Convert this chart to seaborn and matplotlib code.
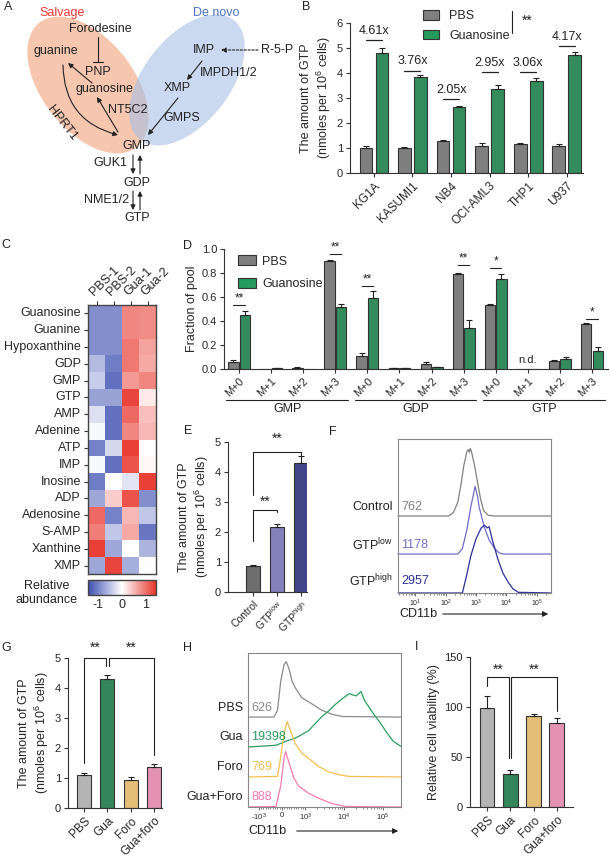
import numpy as np
import pandas as pd
import matplotlib
matplotlib.use("Agg")
import matplotlib.pyplot as plt
import seaborn as sns
from matplotlib.patches import Ellipse, Patch
from matplotlib.colors import LinearSegmentedColormap

# ---------------- data ----------------
# B: GTP in AML cell lines
cells = ["KG1A", "KASUMI1", "NB4", "OCI-AML3", "THP1", "U937"]
b_pbs = [1.00, 1.00, 1.28, 1.10, 1.18, 1.10]
b_pbs_err = [0.07, 0.05, 0.04, 0.12, 0.04, 0.05]
b_gua = [4.80, 3.85, 2.66, 3.38, 3.68, 4.72]
b_gua_err = [0.20, 0.08, 0.04, 0.15, 0.12, 0.12]
b_fold = ["4.61x", "3.76x", "2.05x", "2.95x", "3.06x", "4.17x"]
b_fold_y = [5.33, 4.10, 2.97, 4.04, 4.04, 5.10]

# C: heatmap
hm_rows = ["Guanosine", "Guanine", "Hypoxanthine", "GDP", "GMP", "GTP", "AMP",
           "Adenine", "ATP", "IMP", "Inosine", "ADP", "Adenosine", "S-AMP",
           "Xanthine", "XMP"]
hm_cols = ["PBS-1", "PBS-2", "Gua-1", "Gua-2"]
hm_vals = [
    [-0.90, -0.90, 0.85, 0.80],
    [-0.90, -0.90, 0.85, 0.80],
    [-0.90, -0.90, 0.95, 0.65],
    [-0.55, -1.05, 0.95, 0.60],
    [-0.40, -1.15, 0.70, 0.85],
    [-0.75, -0.75, 1.30, 0.15],
    [-0.25, -1.15, 1.05, 0.45],
    [-0.05, -1.15, 0.85, 0.50],
    [-1.00, -0.30, 1.35, 0.00],
    [-0.05, -1.15, 1.20, 0.05],
    [-1.05, 0.00, -0.20, 1.35],
    [-0.70, 0.35, 1.20, -0.90],
    [1.05, -1.00, 0.50, -0.45],
    [0.90, -0.45, 0.60, -1.10],
    [1.35, -0.70, 0.00, -0.60],
    [-0.70, 1.30, -0.65, -0.02],
]

# D: isotopologue fractions
d_mets = ["GMP", "GDP", "GTP"]
d_iso = ["M+0", "M+1", "M+2", "M+3"]
d_pbs = [0.06, 0.003, 0.012, 0.90, 0.105, 0.005, 0.045, 0.795, 0.535, 0.0, 0.07, 0.375]
d_pbs_err = [0.015, 0.0, 0.004, 0.01, 0.025, 0.002, 0.015, 0.008, 0.005, 0.0, 0.005, 0.005]
d_gua = [0.45, 0.005, 0.003, 0.515, 0.59, 0.005, 0.015, 0.345, 0.75, 0.0, 0.085, 0.15]
d_gua_err = [0.035, 0.002, 0.0, 0.03, 0.06, 0.002, 0.005, 0.06, 0.04, 0.0, 0.015, 0.03]
d_sig_idx = [0, 3, 4, 7, 8, 11]
d_sig_y = [0.536, 0.958, 0.69, 0.87, 0.84, 0.42]
d_sig_txt = ["**", "**", "**", "**", "*", "*"]

# E
e_groups = ["Control", "GTP$^{\\mathrm{low}}$", "GTP$^{\\mathrm{high}}$"]
e_vals = [0.87, 2.18, 4.30]
e_err = [0.03, 0.10, 0.25]

# F: flow histograms (CD11b, % of mode)
f_ctrl_x = [2.7, 126, 178, 251, 316, 398, 501, 562, 603, 646, 708, 891, 1122, 1413, 1778, 2512, 3981, 295000]
f_ctrl_h = [0, 0, 5, 20, 45, 75, 95, 98, 94, 100, 95, 75, 50, 25, 8, 1, 0, 0]
f_low_x = [2.7, 251, 355, 501, 676, 794, 933, 1122, 1259, 1862, 2692, 3981, 5623, 7943, 295000]
f_low_h = [0, 0, 8, 36, 70, 85, 100, 85, 70, 40, 21, 9, 2, 0, 0]
f_high_x = [2.7, 355, 479, 676, 1000, 1479, 1905, 2344, 2692, 3467, 5248, 7762, 11482, 16596, 24547, 295000]
f_high_h = [0, 0, 24, 55, 80, 96, 100, 96, 98, 78, 50, 29, 16, 6, 1, 0]
f_labels = ["Control", "GTP$^{\\mathrm{low}}$", "GTP$^{\\mathrm{high}}$"]
f_mfi = ["762", "1178", "2957"]

# G
g_groups = ["PBS", "Gua", "Foro", "Gua+foro"]
g_vals = [1.10, 4.30, 0.95, 1.38]
g_err = [0.07, 0.15, 0.10, 0.08]

# H: flow histograms
h_pbs_x = [-1800, -350, -196, -56, 83, 181, 292, 431, 569, 847, 1470, 2700, 4930, 9000, 295000]
h_pbs_h = [0, 0, 12, 65, 94, 100, 88, 65, 53, 35, 24, 12, 5, 1, 0]
h_gua_x = [-1800, -263, 153, 569, 708, 1200, 1800, 2700, 4030, 6040, 9000, 13500, 20300, 27500,
           33600, 55800, 83000, 126000, 187000, 295000]
h_gua_h = [0, 3, 10, 16, 19, 29, 42, 55, 65, 77, 87, 96, 92, 100, 84, 61, 45, 26, 10, 1]
h_foro_x = [-1800, -196, -56, 83, 222, 361, 569, 847, 1200, 2200, 4030, 7400, 13500, 295000]
h_foro_h = [0, 1, 37, 78, 100, 84, 60, 43, 34, 19, 9, 4, 1, 0]
h_combo_x = [-1800, -263, -56, 83, 153, 292, 500, 708, 1200, 2200, 4930, 11100, 295000]
h_combo_h = [0, 1, 38, 88, 100, 81, 53, 38, 25, 16, 6, 1, 0]
h_labels = ["PBS", "Gua", "Foro", "Gua+Foro"]
h_mfi = ["626", "19398", "769", "888"]

# I
i_vals = [99, 33, 91, 84]
i_err = [12, 4, 2, 5]

# ---------------- style ----------------
sns.set_style("ticks")
plt.rcParams["font.family"] = ["Liberation Sans", "DejaVu Sans"]
plt.rcParams["mathtext.fontset"] = "custom"
plt.rcParams["mathtext.rm"] = "Liberation Sans"
plt.rcParams["mathtext.it"] = "Liberation Sans:italic"
plt.rcParams["mathtext.bf"] = "Liberation Sans:bold"
plt.rcParams["axes.unicode_minus"] = False
plt.rcParams["axes.edgecolor"] = "#333333"
plt.rcParams["axes.linewidth"] = 0.8

INK = "#222222"
GRAY = "#7f7f7f"
GREEN = "#26995c"
FS = 9
W, H = 610, 860

fig = plt.figure(figsize=(6.1, 8.6), dpi=100)


def add_ax(x0, y0, x1, y1):
    return fig.add_axes([x0 / W, 1 - y1 / H, (x1 - x0) / W, (y1 - y0) / H])


def ftext(x, y, s, **kw):
    fig.text(x / W, 1 - y / H, s, **kw)


def style(ax, size=8):
    sns.despine(ax=ax)
    ax.tick_params(length=3, width=0.8, labelsize=size, color="#333333", pad=2)


def bar_errors(ax, means, errs):
    bars = sorted(ax.patches, key=lambda p: p.get_x())
    xs = np.array([p.get_x() + p.get_width() / 2 for p in bars])
    m = np.array(means)
    e = np.array(errs)
    keep = e > 0
    ax.errorbar(xs[keep], m[keep], yerr=[np.zeros(keep.sum()), e[keep]], fmt="none",
                ecolor=INK, elinewidth=0.8, capsize=2.2, capthick=0.8, zorder=3)
    return xs


def bracket(ax, x1, x2, top, y1, y2, txt, ty):
    ax.plot([x1, x1, x2, x2], [y1, top, top, y2], color=INK, lw=0.8, clip_on=False)
    ax.text((x1 + x2) / 2, ty, txt, ha="center", va="center", fontsize=10, color=INK)


ylab_gtp = "The amount of GTP\n(nmoles per 10$^6$ cells)"

# ---------------- A: pathway diagram ----------------
axA = add_ax(0, 0, 300, 225)
axA.set_xlim(0, 300)
axA.set_ylim(225, 0)
axA.axis("off")
axA.add_patch(Ellipse((88, 85), 158, 92, angle=52, facecolor="#f2a883", alpha=0.65, lw=0))
axA.add_patch(Ellipse((187, 80), 152, 86, angle=128, facecolor="#a9c0e6", alpha=0.6, lw=0))

diag_txt = [("Salvage", 62, 13, "#ee3535"), ("De novo", 216, 13, "#4a72c4"),
            ("Forodesine", 100, 29, INK), ("guanine", 56, 51, INK), ("PNP", 98, 72, INK),
            ("guanosine", 104, 89, INK), ("IMP", 204, 50, INK), ("R-5-P", 277, 50, INK),
            ("IMPDH1/2", 229, 73, INK), ("XMP", 177, 88, INK), ("NT5C2", 128, 110, INK),
            ("GMPS", 182, 118, INK), ("GMP", 137, 146, INK), ("GUK1", 110, 163, INK),
            ("GDP", 137, 183, INK), ("NME1/2", 107, 200, INK), ("GTP", 137, 218, INK)]
for s, x, y, c in diag_txt:
    axA.text(x, y, s, ha="center", va="center", fontsize=FS, color=c)
axA.text(62, 123, "HPRT1", ha="center", va="center", fontsize=FS, color=INK, rotation=-52)


def arrow(p0, p1, **kw):
    props = dict(arrowstyle="-|>", lw=0.8, color=INK, mutation_scale=7, shrinkA=0, shrinkB=0)
    props.update(kw)
    axA.annotate("", xy=p1, xytext=p0, arrowprops=props)


arrow((92, 83), (68, 63))
arrow((118, 132), (97, 97))
arrow((202, 61), (187, 80))
arrow((178, 98), (148, 135))
arrow((258, 50), (221, 50), linestyle=(0, (2, 1.5)))
arrow((63, 65), (118, 135), connectionstyle="arc3,rad=0.38")
arrow((133, 155), (133, 174))
arrow((140, 174), (140, 155))
arrow((133, 191), (133, 210))
arrow((140, 210), (140, 191))
axA.plot([98, 98], [37, 62], color=INK, lw=0.8)
axA.plot([93, 103], [62, 62], color=INK, lw=0.8)

# ---------------- B ----------------
axB = add_ax(350, 23, 583, 173)
dfB = pd.DataFrame({"cell": cells * 2,
                    "treatment": ["PBS"] * len(cells) + ["Guanosine"] * len(cells),
                    "gtp": b_pbs + b_gua})
sns.barplot(data=dfB, x="cell", y="gtp", hue="treatment", palette={"PBS": GRAY, "Guanosine": GREEN},
            errorbar=None, width=0.83, gap=0.2, edgecolor="#333333", linewidth=0.8,
            legend=False, ax=axB)
b_means = [v for pair in zip(b_pbs, b_gua) for v in pair]
b_errs = [v for pair in zip(b_pbs_err, b_gua_err) for v in pair]
xsB = bar_errors(axB, b_means, b_errs)
for i, (lab, ly) in enumerate(zip(b_fold, b_fold_y)):
    axB.plot([xsB[2 * i], xsB[2 * i + 1]], [ly, ly], color=INK, lw=0.9)
    axB.text((xsB[2 * i] + xsB[2 * i + 1]) / 2, ly + 0.12, lab, ha="center", va="bottom",
             fontsize=FS, color=INK)
axB.set_ylim(0, 6)
axB.set_yticks(range(7))
axB.set_xlim(-0.62, 5.42)
axB.set_xlabel("")
axB.set_ylabel(ylab_gtp, fontsize=FS, labelpad=3)
style(axB)
axB.tick_params(axis="x", labelsize=8.5)
plt.setp(axB.get_xticklabels(), rotation=45, ha="right", rotation_mode="anchor")
hB = [Patch(facecolor=GRAY, edgecolor="#333333", lw=0.8, label="PBS"),
      Patch(facecolor=GREEN, edgecolor="#333333", lw=0.8, label="Guanosine")]
axB.legend(handles=hB, loc="upper left", bbox_to_anchor=(417 / W, 1 - 4 / H),
           bbox_transform=fig.transFigure, frameon=False, fontsize=FS, borderpad=0,
           handlelength=1.25, handleheight=0.8, labelspacing=0.6, handletextpad=0.8)
axB.plot([512 / W, 512 / W], [1 - 11 / H, 1 - 33 / H], transform=fig.transFigure,
         color=INK, lw=0.8, clip_on=False)
ftext(527, 21, "**", ha="center", va="center", fontsize=10, color=INK)

# ---------------- C: heatmap ----------------
axC = add_ax(88, 305, 156, 574)
cax = add_ax(88, 580, 156, 595)
dfC = pd.DataFrame(hm_vals, index=hm_rows, columns=hm_cols)
cmap = LinearSegmentedColormap.from_list("bwr_c", ["#3d4fb0", "#ffffff", "#e8352c"])
sns.heatmap(dfC, cmap=cmap, vmin=-1.42, vmax=1.42, ax=axC, cbar_ax=cax,
            xticklabels=True, yticklabels=True,
            cbar_kws={"orientation": "horizontal", "ticks": [-1, 0, 1]})
axC.xaxis.tick_top()
axC.set_xticklabels(hm_cols, rotation=45, ha="left", rotation_mode="anchor", fontsize=FS)
axC.set_yticklabels(hm_rows, rotation=0, fontsize=FS)
axC.tick_params(length=3, width=0.8, color="#333333", pad=2)
for sp in axC.spines.values():
    sp.set_visible(True)
    sp.set_color("#444444")
    sp.set_linewidth(1.0)
cax.tick_params(length=0, labelsize=FS, pad=3)
cax.xaxis.set_ticklabels(["-1", "0", "1"])
cb = axC.collections[0].colorbar
cb.outline.set_edgecolor("#444444")
cb.outline.set_linewidth(1.0)
ftext(47, 593, "Relative\nabundance", ha="center", va="center", fontsize=FS,
      linespacing=1.15, color=INK)

# ---------------- D ----------------
axD = add_ax(224, 249, 608, 369)
d_cats = [f"{m} {iso}" for m in d_mets for iso in d_iso]
dfD = pd.DataFrame({"cat": d_cats * 2,
                    "treatment": ["PBS"] * len(d_cats) + ["Guanosine"] * len(d_cats),
                    "frac": d_pbs + d_gua})
sns.barplot(data=dfD, x="cat", y="frac", hue="treatment", palette={"PBS": GRAY, "Guanosine": GREEN},
            errorbar=None, width=0.72, gap=0.1, edgecolor="#333333", linewidth=0.8,
            legend=False, ax=axD)
d_means = [v for pair in zip(d_pbs, d_gua) for v in pair]
d_errs = [v for pair in zip(d_pbs_err, d_gua_err) for v in pair]
xsD = bar_errors(axD, d_means, d_errs)
for idx, sy, st in zip(d_sig_idx, d_sig_y, d_sig_txt):
    axD.plot([xsD[2 * idx], xsD[2 * idx + 1]], [sy, sy], color=INK, lw=0.8)
    axD.text((xsD[2 * idx] + xsD[2 * idx + 1]) / 2, sy + 0.005, st, ha="center",
             va="bottom", fontsize=8.5, color=INK)
axD.text(9, 0.03, "n.d.", ha="center", va="bottom", fontsize=8, color=INK)
axD.set_ylim(0, 1.0)
axD.set_yticks(np.arange(0, 1.01, 0.2))
axD.set_yticklabels([f"{v:.1f}" for v in np.arange(0, 1.01, 0.2)])
axD.set_xlim(-0.47, 11.5)
axD.set_xticks(range(len(d_cats)))
axD.set_xticklabels(d_iso * 3)
axD.set_xlabel("")
axD.set_ylabel("Fraction of pool", fontsize=FS, labelpad=3)
style(axD)
plt.setp(axD.get_xticklabels(), rotation=45, ha="right", rotation_mode="anchor")
for g, m in enumerate(d_mets):
    axD.plot([g * 4 - 0.4, g * 4 + 3.4], [-0.26, -0.26], color=INK, lw=0.8,
             transform=axD.get_xaxis_transform(), clip_on=False)
    axD.text(g * 4 + 1.5, -0.33, m, ha="center", va="center", fontsize=FS,
             transform=axD.get_xaxis_transform(), color=INK)
axD.legend(handles=hB, loc="upper left", bbox_to_anchor=(232 / W, 1 - 249 / H),
           bbox_transform=fig.transFigure, frameon=False, fontsize=FS, borderpad=0,
           handlelength=1.4, handleheight=0.85, labelspacing=0.8, handletextpad=0.5)

# ---------------- E ----------------
axE = add_ax(228, 442, 307, 592)
e_colors = ["#6e6e6e", "#7a78c2", "#363a94"]
dfE = pd.DataFrame({"group": e_groups, "gtp": e_vals})
sns.barplot(data=dfE, x="group", y="gtp", hue="group", palette=e_colors, errorbar=None,
            width=0.58, edgecolor="#333333", linewidth=0.8, legend=False, ax=axE)
bar_errors(axE, e_vals, e_err)
bracket(axE, 0, 2, 4.67, 3.24, 4.55, "**", 5.1)
bracket(axE, 0, 1, 2.73, 1.69, 2.67, "**", 3.0)
axE.set_ylim(0, 5)
axE.set_xlim(-1.04, 2.25)
axE.set_xlabel("")
axE.set_ylabel(ylab_gtp, fontsize=FS, labelpad=3)
style(axE)
axE.tick_params(axis="x", labelsize=7.5)
plt.setp(axE.get_xticklabels(), rotation=45, ha="right", rotation_mode="anchor")

# ---------------- F: flow ----------------
axF = add_ax(398, 439, 551, 593)
f_curves = [(f_ctrl_x, f_ctrl_h, "#808080", 0.5), (f_low_x, f_low_h, "#6f6cc8", 0.253),
            (f_high_x, f_high_h, "#2b2f9a", 0.0)]
for (xs, hs, c, off) in f_curves:
    axF.plot(xs, off + np.array(hs) * 0.0044, color=c, lw=0.9, clip_on=False)
axF.set_xscale("log")
axF.set_xlim(10 ** 0.43, 10 ** 5.47)
axF.set_ylim(0, 1)
axF.set_yticks([])
axF.set_xticks([1e1, 1e2, 1e3, 1e4, 1e5])
axF.set_xticklabels(["10$^1$", "10$^2$", "10$^3$", "10$^4$", "10$^5$"])
axF.tick_params(axis="x", which="major", length=2.5, width=0.6, labelsize=5, pad=1, color="#555555")
axF.tick_params(axis="x", which="minor", length=1.5, width=0.5, color="#555555")
for sp in axF.spines.values():
    sp.set_color("#888888")
    sp.set_linewidth(0.8)
for lab, mfi, (xs, hs, c, off), y in zip(f_labels, f_mfi, f_curves, [507, 545, 581]):
    ftext(393, y, lab, ha="right", va="center", fontsize=FS, color=INK)
    ftext(401, y, mfi, ha="left", va="center", fontsize=FS, color=c)
ftext(399, 614, "CD11b", ha="left", va="center", fontsize=FS, color=INK)
axF.annotate("", xy=(551 / W, 1 - 614 / H), xytext=(440 / W, 1 - 614 / H),
             xycoords="figure fraction", textcoords="figure fraction",
             arrowprops=dict(arrowstyle="-|>", lw=0.8, color=INK, mutation_scale=8))

# ---------------- G ----------------
gi_colors = ["#b4b4b4", "#27925a", "#f5c465", "#f086ad"]
axG = add_ax(68, 658, 162, 808)
dfG = pd.DataFrame({"group": g_groups, "gtp": g_vals})
sns.barplot(data=dfG, x="group", y="gtp", hue="group", palette=gi_colors, errorbar=None,
            width=0.6, edgecolor="#333333", linewidth=0.8, legend=False, ax=axG)
bar_errors(axG, g_vals, g_err)
bracket(axG, 0, 0.95, 5.0, 1.5, 4.74, "**", 5.33)
bracket(axG, 1.05, 3, 5.0, 4.74, 1.78, "**", 5.33)
axG.set_ylim(0, 5)
axG.set_xlim(-0.69, 3.34)
axG.set_xlabel("")
axG.set_ylabel(ylab_gtp, fontsize=FS, labelpad=3)
style(axG)
axG.tick_params(axis="x", labelsize=8.5)
plt.setp(axG.get_xticklabels(), rotation=45, ha="right", rotation_mode="anchor")

# ---------------- H: flow ----------------
axH = add_ax(248, 653, 401, 807)
h_curves = [(h_pbs_x, h_pbs_h, "#8a8a8a", 0.584), (h_gua_x, h_gua_h, "#2a9d5e", 0.39),
            (h_foro_x, h_foro_h, "#f5bf4f", 0.195), (h_combo_x, h_combo_h, "#f37bb0", 0.0)]
for (xs, hs, c, off) in h_curves:
    axH.plot(xs, off + np.array(hs) * 0.0036, color=c, lw=0.9, clip_on=False)
axH.set_xscale("symlog", linthresh=1000, linscale=0.54)
axH.set_xlim(-1900, 2.95e5)
axH.set_ylim(0, 1)
axH.set_yticks([])
axH.set_xticks([-1000, 0, 1000, 1e4, 1e5])
axH.set_xticklabels(["-10$^3$", "0", "10$^3$", "10$^4$", "10$^5$"])
minors = [s * k * 10 ** e for e in (3, 4) for k in range(2, 10) for s in (1, -1)
          if -1900 < s * k * 10 ** e < 2.95e5] + list(range(-900, 1000, 100))
axH.set_xticks(minors, minor=True)
axH.tick_params(axis="x", which="major", length=2.5, width=0.6, labelsize=5.5, pad=1, color="#555555")
axH.tick_params(axis="x", which="minor", length=1.5, width=0.5, color="#555555")
for sp in axH.spines.values():
    sp.set_color("#888888")
    sp.set_linewidth(0.8)
for lab, mfi, (xs, hs, c, off), y in zip(h_labels, h_mfi, h_curves, [708, 737, 767, 797]):
    ftext(243, y, lab, ha="right", va="center", fontsize=FS, color=INK)
    ftext(251, y, mfi, ha="left", va="center", fontsize=FS, color=c)
ftext(248, 831, "CD11b", ha="left", va="center", fontsize=FS, color=INK)
axH.annotate("", xy=(401 / W, 1 - 831 / H), xytext=(294 / W, 1 - 831 / H),
             xycoords="figure fraction", textcoords="figure fraction",
             arrowprops=dict(arrowstyle="-|>", lw=0.8, color=INK, mutation_scale=8))

# ---------------- I ----------------
axI = add_ax(470, 657, 573, 807)
dfI = pd.DataFrame({"group": g_groups, "viab": i_vals})
sns.barplot(data=dfI, x="group", y="viab", hue="group", palette=gi_colors, errorbar=None,
            width=0.64, edgecolor="#333333", linewidth=0.8, legend=False, ax=axI)
bar_errors(axI, i_vals, i_err)
bracket(axI, 0, 0.95, 130, 120.7, 49, "**", 137)
bracket(axI, 1.05, 3, 130, 49, 95.7, "**", 137)
axI.set_ylim(0, 150)
axI.set_yticks([0, 50, 100, 150])
axI.set_xlim(-0.73, 3.69)
axI.set_xlabel("")
axI.set_ylabel("Relative cell viability (%)", fontsize=FS, labelpad=3)
style(axI)
axI.tick_params(axis="x", labelsize=8.5)
plt.setp(axI.get_xticklabels(), rotation=45, ha="right", rotation_mode="anchor")

# ---------------- panel letters ----------------
for s, x, y in [("A", 8, 7), ("B", 306, 7), ("C", 6, 245), ("D", 188, 246), ("E", 188, 431),
                ("F", 333, 432), ("G", 6, 648), ("H", 188, 648), ("I", 417, 647)]:
    ftext(x, y, s, ha="center", va="center", fontsize=9, color=INK)

fig.savefig("out.png", dpi=100)
